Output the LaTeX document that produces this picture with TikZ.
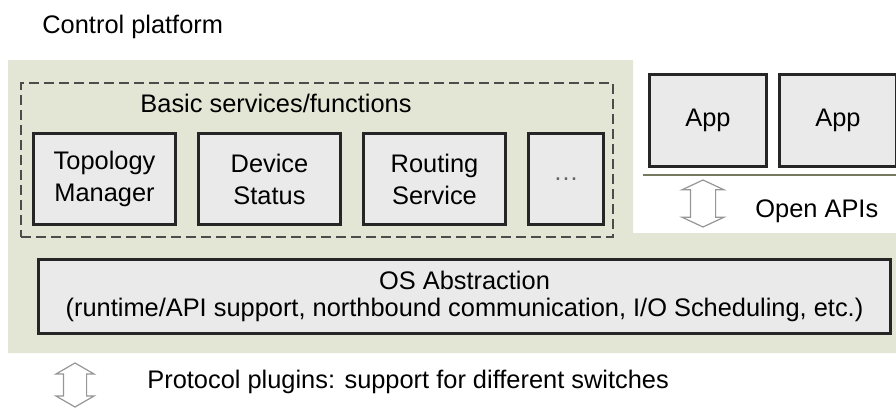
\documentclass[tikz,border=0pt]{standalone}
\usepackage{fontspec}
\setmainfont{Liberation Sans}
\usetikzlibrary{positioning,shapes.arrows}

\definecolor{platformgreen}{RGB}{228,230,213}
\definecolor{boxgray}{RGB}{234,234,234}
\definecolor{rulegreen}{RGB}{118,120,96}
\definecolor{arrowgray}{RGB}{150,150,150}

\tikzset{
  svcbox/.style={draw=black!85, line width=1.5pt, fill=boxgray, minimum width=71pt,
    minimum height=45.5pt, align=center, inner sep=0pt},
  appbox/.style={svcbox, minimum width=58.5pt, minimum height=46pt},
  dashbox/.style={draw=black!70, line width=0.9pt, dash pattern=on 5pt off 2.5pt, inner sep=0pt},
  hollowarrow/.style={double arrow, draw=arrowgray, fill=white, line width=0.6pt,
    rotate=90, inner xsep=0pt}
}

\begin{document}
\begin{tikzpicture}[x=0.5pt, y=-0.5pt, font=\fontsize{12.7}{16}\selectfont]
	\useasboundingbox (0,0) rectangle (896,408);
	% platform area
	\fill[platformgreen] (8,60) -- (633,60) -- (633,233) -- (896,233) -- (896,353) -- (8,353) -- cycle;
	\node[anchor=base west, inner sep=0pt] (title) at (42,33) {Control platform};

	% basic services
	\node[dashbox, minimum width=296pt, minimum height=77pt, anchor=north west] (services) at (20,82) {};
	\node[anchor=base, inner sep=0pt] (servicestitle) at (276,112) {Basic services/functions};
	\node[svcbox, anchor=north west] (topology) at (32,132) {Topology\\Manager};
	\node[svcbox, right=10pt of topology] (device) {Device\\Status};
	\node[svcbox, right=10pt of device] (routing) {Routing\\Service};
	\node[svcbox, right=10pt of routing, minimum width=37.5pt, text=black!60] (more) {\ldots};

	% applications
	\node[appbox, anchor=north west] (app1) at (648,73) {App};
	\node[appbox, right=5pt of app1] (app2) {App};
	\coordinate (ruleL) at (643,175);
	\coordinate (ruleR) at (896,175);
	\draw[rulegreen, line width=1pt] (ruleL) -- (ruleR);
	\node[hollowarrow, minimum height=23.5pt, inner ysep=6pt,
	  double arrow head extend=4.25pt, double arrow tip angle=130] (apiarrow) at (703,203.5) {};
	\node[anchor=base west, inner sep=0pt] (apilabel) at (755,217) {Open APIs};

	% os layer
	\node[svcbox, minimum width=426pt, minimum height=37pt, anchor=north west,
	  font=\fontsize{12.7}{13.5}\selectfont] (osabs) at (37,258)
	  {OS Abstraction\\(runtime/API support, northbound communication, I/O Scheduling, etc.)};

	% southbound
	\node[hollowarrow, minimum height=22pt, inner ysep=5.5pt,
	  double arrow head extend=3.75pt, double arrow tip angle=120] (plugarrow) at (75,385) {};
	\node[anchor=base west, inner sep=0pt] (pluglabel) at (147,388) {Protocol plugins: support for different switches};
\end{tikzpicture}
\end{document}
